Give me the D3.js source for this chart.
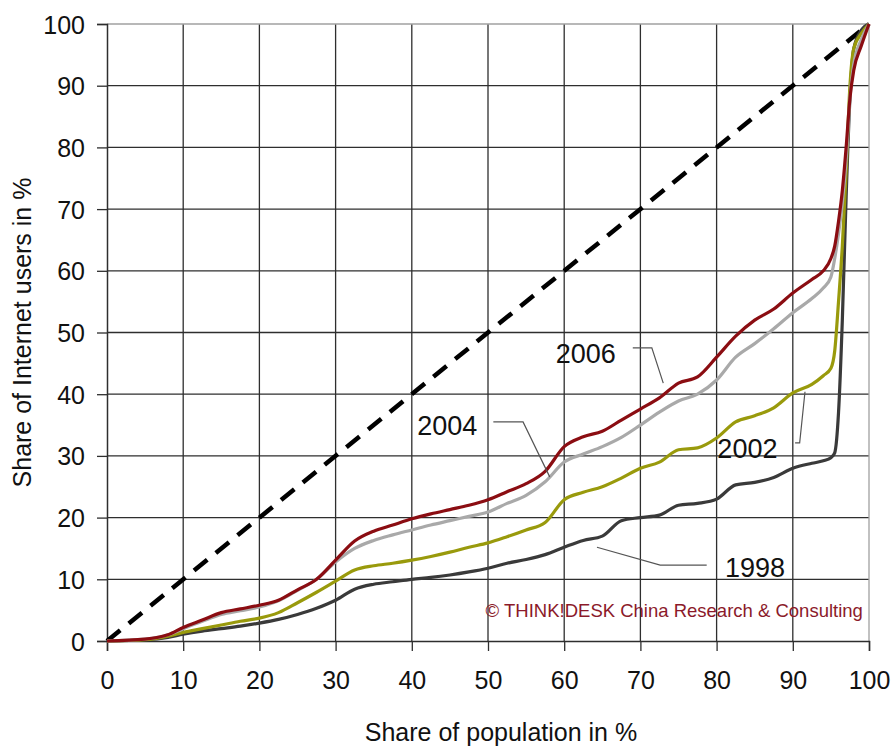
<!DOCTYPE html>
<html>
<head>
<meta charset="utf-8">
<script src="https://cdn.jsdelivr.net/npm/d3@7"></script>
<style>
  body { margin: 0; background: #fff; }
  text { font-family: "Liberation Sans", Arial, sans-serif; }
</style>
</head>
<body>
<div id="chart"></div>
<script>
// Lorenz curves: share of population vs share of Internet users

// population share (x) for every series
const popShare = [0, 5, 8, 10, 12.5, 15, 17.5, 20, 22.5, 25, 27.5, 30, 32.5, 35, 37.5, 40,
  42.5, 45, 47.5, 50, 52.5, 55, 57.5, 60, 62.5, 65, 67.5, 70, 72.5, 75, 77.5, 80,
  82.5, 85, 87.5, 90, 92.5, 94, 95, 95.5, 96, 96.5, 97, 97.5, 98, 99, 100];

const users2006 = [0, 0.3, 1.0, 2.2, 3.4, 4.6, 5.2, 5.8, 6.6, 8.3, 10.0, 13.1, 16.2, 17.8, 18.8, 19.8,
  20.6, 21.3, 22.0, 22.9, 24.2, 25.5, 27.5, 31.5, 33.1, 34.0, 35.8, 37.6, 39.4, 41.8, 42.8, 46.0,
  49.4, 52.0, 53.8, 56.4, 58.6, 60.0, 62.0, 64.0, 68.0, 73.0, 80.0, 88.0, 92.5, 96.5, 100];

const users2004 = [0, 0.3, 1.0, 2.0, 3.2, 4.3, 4.9, 5.5, 6.5, 8.2, 10.0, 12.8, 15.0, 16.3, 17.2, 18.0,
  18.8, 19.5, 20.2, 20.9, 22.3, 23.6, 25.8, 29.0, 30.3, 31.5, 33.0, 35.0, 37.1, 38.9, 40.0, 42.3,
  46.0, 48.2, 50.6, 53.2, 55.5, 57.2, 59.0, 62.0, 66.0, 71.0, 78.0, 88.0, 93.5, 97.5, 100];

const users2002 = [0, 0.2, 0.8, 1.4, 2.0, 2.6, 3.2, 3.7, 4.6, 6.2, 7.9, 9.7, 11.5, 12.2, 12.6, 13.1,
  13.7, 14.4, 15.2, 15.9, 16.9, 18.0, 19.2, 22.9, 24.1, 25.0, 26.4, 28.0, 29.0, 31.0, 31.3, 32.9,
  35.5, 36.5, 37.8, 40.2, 41.6, 43.0, 44.2, 47.0, 55.0, 64.0, 76.0, 90.0, 96.0, 98.5, 100];

const users1998 = [0, 0.2, 0.6, 1.1, 1.6, 2.0, 2.4, 2.9, 3.5, 4.3, 5.3, 6.6, 8.4, 9.2, 9.6, 10.0,
  10.3, 10.7, 11.2, 11.8, 12.6, 13.2, 14.0, 15.2, 16.3, 17.0, 19.5, 20.0, 20.4, 22.0, 22.3, 23.0,
  25.3, 25.7, 26.5, 28.0, 28.8, 29.2, 29.7, 30.5, 37.0, 52.0, 72.0, 88.0, 96.0, 99.0, 100];

const seriesNames = ['1998', '2002', '2004', '2006'];
const tickValues = [0, 10, 20, 30, 40, 50, 60, 70, 80, 90, 100];

const colors = {
  '1998': '#3a3a3a',
  '2002': '#999a0c',
  '2004': '#a9a9a9',
  '2006': '#8b0d12',
};

// label positions in data units: [text x, text y], leader points
const labels = [
  { name: '2006', at: [58.9, 45.1], leader: [[69.0, 47.5], [71.5, 47.5], [73.0, 41.8]] },
  { name: '2004', at: [40.7, 33.4], leader: [[50.7, 35.5], [54.6, 35.5], [58.1, 26.6]] },
  { name: '2002', at: [80.1, 29.7], leader: [[90.3, 32.1], [90.9, 32.1], [91.6, 40.4]] },
  { name: '1998', at: [81.1, 10.4], leader: [[64.3, 15.2], [72.6, 12.3], [78.7, 12.3]] },
];

const margin = { top: 24, right: 25, bottom: 107, left: 107 };
const totalW = 894;
const totalH = 748;
const width = totalW - margin.left - margin.right;
const height = totalH - margin.top - margin.bottom;

const xScale = d3.scaleLinear().domain([0, 100]).range([0, width]);
const yScale = d3.scaleLinear().domain([0, 100]).range([height, 0]);

const svg = d3
  .select('#chart')
  .append('svg')
  .attr('width', totalW)
  .attr('height', totalH)
  .append('g')
  .attr('transform', `translate(${margin.left},${margin.top})`);

// grid lines
svg.append('g')
  .selectAll('line')
  .data(tickValues.filter(d => d > 0 && d < 100))
  .enter()
  .append('line')
  .attr('x1', d => xScale(d))
  .attr('x2', d => xScale(d))
  .attr('y1', 0)
  .attr('y2', height)
  .attr('stroke', '#2e2e2e')
  .attr('stroke-width', 1.3);

svg.append('g')
  .selectAll('line')
  .data(tickValues.filter(d => d > 0 && d < 100))
  .enter()
  .append('line')
  .attr('x1', 0)
  .attr('x2', width)
  .attr('y1', d => yScale(d))
  .attr('y2', d => yScale(d))
  .attr('stroke', '#2e2e2e')
  .attr('stroke-width', 1.3);

// top and right frame, lighter
svg.append('line')
  .attr('x1', 0).attr('x2', xScale(100))
  .attr('y1', yScale(100)).attr('y2', yScale(100))
  .attr('stroke', '#a0a0a0').attr('stroke-width', 1.3);
svg.append('line')
  .attr('x1', xScale(100)).attr('x2', xScale(100))
  .attr('y1', yScale(100)).attr('y2', height)
  .attr('stroke', '#a0a0a0').attr('stroke-width', 1.3);

// X axis
const xAxis = svg.append('g')
  .attr('transform', `translate(0,${height})`)
  .call(d3.axisBottom(xScale).tickValues(tickValues).tickSize(10).tickPadding(20));
// Y axis
const yAxis = svg.append('g')
  .call(d3.axisLeft(yScale).tickValues(tickValues).tickSize(10).tickPadding(12));

[xAxis, yAxis].forEach((ax) => {
  ax.select('.domain').attr('stroke', '#2e2e2e').attr('stroke-width', 1.5);
  ax.selectAll('.tick line').attr('stroke', '#2e2e2e').attr('stroke-width', 1.3);
  ax.selectAll('.tick text')
    .attr('fill', '#111')
    .style('font-size', '25px')
    .style('font-family', '"Liberation Sans", Arial, sans-serif');
});
yAxis.selectAll('.tick text').attr('dy', '0.36em');
xAxis.selectAll('.tick text').attr('dy', '0.71em');

// equality line
svg.append('line')
  .attr('x1', xScale(0)).attr('y1', yScale(0))
  .attr('x2', xScale(100)).attr('y2', yScale(100))
  .attr('stroke', '#000')
  .attr('stroke-width', 4.5)
  .attr('stroke-dasharray', '17,11');

// Lorenz curves
const seriesData = {
  '1998': users1998,
  '2002': users2002,
  '2004': users2004,
  '2006': users2006,
};

const valueline = d3
  .line()
  .x(d => xScale(d[0]))
  .y(d => yScale(d[1]))
  .curve(d3.curveMonotoneX);

seriesNames.forEach((name) => {
  const pts = popShare.map((x, i) => [x, seriesData[name][i]]);
  svg.append('path')
    .datum(pts)
    .attr('fill', 'none')
    .attr('stroke', colors[name])
    .attr('stroke-width', 3.2)
    .attr('stroke-linejoin', 'round')
    .attr('d', valueline);
});

// year labels with leader lines
const leader = d3.line().x(d => xScale(d[0])).y(d => yScale(d[1]));
labels.forEach((l) => {
  svg.append('path')
    .attr('d', leader(l.leader))
    .attr('fill', 'none')
    .attr('stroke', '#555')
    .attr('stroke-width', 1.2);
  svg.append('text')
    .attr('x', xScale(l.at[0]))
    .attr('y', yScale(l.at[1]))
    .attr('fill', '#111')
    .style('font-size', '27px')
    .text(l.name);
});

// copyright note
svg.append('text')
  .attr('x', xScale(99.2))
  .attr('y', yScale(3.9))
  .attr('text-anchor', 'end')
  .attr('fill', '#8b1a2a')
  .style('font-size', '18.5px')
  .text('\u00A9 THINK!DESK China Research & Consulting');

// axis titles
svg.append('text')
  .attr('x', width / 2 + 13)
  .attr('y', height + 100)
  .attr('text-anchor', 'middle')
  .attr('fill', '#111')
  .style('font-size', '25px')
  .text('Share of population in %');

svg.append('text')
  .attr('transform', `translate(${-85},${height / 2}) rotate(-90)`)
  .attr('text-anchor', 'middle')
  .attr('dy', '0.36em')
  .attr('fill', '#111')
  .style('font-size', '25px')
  .text('Share of Internet users in %');
</script>
</body>
</html>
